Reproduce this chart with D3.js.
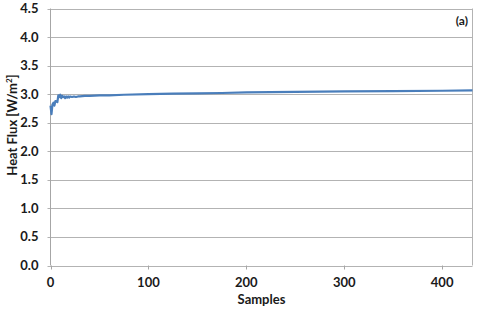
<!DOCTYPE html>
<html><head><meta charset="utf-8">
<script src="https://cdn.jsdelivr.net/npm/d3@7"></script>
<style>body{margin:0;background:#fff}svg{display:block}text{font-family:Lato,"Open Sans",sans-serif;font-weight:bold;fill:#1a1a1a}</style>
</head><body><svg id="c" width="480" height="310"></svg>
<script>
const samples = [0,1,2,3,4,5,6,7,8,9,10,11,12,13,14,15,16,17,18,19,20,22,24,26,28,30,35,40,50,60,75,100,125,150,175,200,250,300,350,400,431];
const flux    = [2.80,2.65,2.82,2.85,2.80,2.88,2.87,2.86,2.98,2.95,2.99,2.93,2.97,2.95,2.96,2.93,2.96,2.94,2.96,2.94,2.96,2.95,2.96,2.95,2.96,2.96,2.97,2.97,2.98,2.98,2.99,3.00,3.01,3.015,3.02,3.03,3.04,3.05,3.055,3.06,3.065];
const yTicks = [0,0.5,1,1.5,2,2.5,3,3.5,4,4.5];
const xTicks = [0,100,200,300,400];
const xLabel = "Samples", panel = "(a)";

const svg = d3.select("#c");
const L=50.5, R=472.5, T=8.5, B=265.5;
const x = d3.scaleLinear().domain([0,431]).range([L,R]);
const y = d3.scaleLinear().domain([0,4.5]).range([B,T]);

svg.append("g").selectAll("line").data(yTicks).join("line")
  .attr("x1",L-3).attr("x2",R).attr("y1",d=>Math.round(y(d))+0.5).attr("y2",d=>Math.round(y(d))+0.5)
  .attr("stroke","#b3b3b3").attr("stroke-width",1);
svg.append("line").attr("x1",R).attr("x2",R).attr("y1",T).attr("y2",B).attr("stroke","#b3b3b3");
svg.append("line").attr("x1",L).attr("x2",L).attr("y1",T).attr("y2",B).attr("stroke","#a6a6a6");
svg.append("g").selectAll("line").data(xTicks).join("line")
  .attr("x1",d=>Math.round(x(d))+0.5).attr("x2",d=>Math.round(x(d))+0.5).attr("y1",B).attr("y2",B+4)
  .attr("stroke","#a6a6a6");

svg.append("g").selectAll("text").data(yTicks).join("text")
  .attr("x",L-12).attr("y",d=>y(d)).attr("dy","0.35em").attr("text-anchor","end")
  .attr("font-size",13).text(d=>d.toFixed(1));
svg.append("g").selectAll("text").data(xTicks).join("text")
  .attr("x",d=>x(d)).attr("y",B+17).attr("dy","0.35em").attr("text-anchor","middle")
  .attr("font-size",13).text(d=>d);

svg.append("text").attr("x",(L+R)/2).attr("y",299).attr("dy","0.35em").attr("text-anchor","middle")
  .attr("font-size",13).text(xLabel);
const yl = svg.append("text").attr("transform",`translate(12,125) rotate(-90)`)
  .attr("text-anchor","middle").attr("dy","0.35em").attr("font-size",13);
yl.append("tspan").text("Heat Flux [W/m");
yl.append("tspan").attr("font-size",8).attr("dy","-5").text("2");
yl.append("tspan").attr("dy","5").text("]");

svg.append("text").attr("x",468).attr("y",21).attr("dy","0.35em").attr("text-anchor","end")
  .attr("font-size",12).text(panel);

const line = d3.line().x((d,i)=>x(samples[i])).y(d=>y(d));
svg.append("path").datum(flux).attr("d",line).attr("fill","none")
  .attr("stroke","#4a7ebb").attr("stroke-width",2.2).attr("stroke-linejoin","round");
</script></body></html>
